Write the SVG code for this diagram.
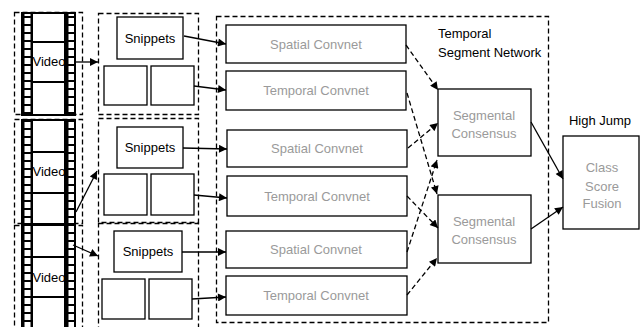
<svg xmlns="http://www.w3.org/2000/svg" width="643" height="327" viewBox="0 0 643 327">
  <style>
    .dash { fill: none; stroke: #000; stroke-width: 1.3; stroke-dasharray: 5 3; }
    .box { fill: #fff; stroke: #000; stroke-width: 1.3; }
    .edge { fill: none; stroke: #000; stroke-width: 1.3; }
    .edge-d { fill: none; stroke: #000; stroke-width: 1.3; stroke-dasharray: 5 3; }
    .lbl { font-family: "Liberation Sans", Arial, sans-serif; font-size: 13px; fill: #000; }
    .gray { font-family: "Liberation Sans", Arial, sans-serif; font-size: 13px; fill: #9a9a9a; text-anchor: middle; }
    .film-line { stroke: #000; stroke-width: 2; }
  </style>
  <defs>
    <!-- ladder of sprocket holes along the film edges -->
    <pattern id="sprocket" width="11" height="8" patternUnits="userSpaceOnUse">
      <rect width="11" height="8" fill="#000"/>
      <rect x="2.5" y="2" width="6" height="6" fill="#fff"/>
    </pattern>
    <marker id="ah" viewBox="0 0 10 10" refX="10" refY="5" markerWidth="9" markerHeight="8" markerUnits="userSpaceOnUse" orient="auto">
      <path d="M0,0 L10,5 L0,10 z" fill="#000"/>
    </marker>
  </defs>

  <!-- video film strips -->
  <g id="video1">
    <rect class="dash" x="14.5" y="12.5" width="68" height="102"/>
    <rect x="22" y="13" width="11" height="102" fill="url(#sprocket)"/>
    <rect x="64" y="13" width="11" height="102" fill="url(#sprocket)"/>
    <rect x="33" y="14" width="31" height="100" fill="#fff"/>
    <rect x="22" y="13" width="53" height="102" fill="none" stroke="#000" stroke-width="2"/>
    <line class="film-line" x1="33" y1="42" x2="64" y2="42"/>
    <line class="film-line" x1="33" y1="82" x2="64" y2="82"/>
    <text class="lbl" x="49" y="66" text-anchor="middle" font-size="12">Video</text>
  </g>
  <g id="video2">
    <rect class="dash" x="14.5" y="119.5" width="68" height="104"/>
    <rect x="22" y="120" width="11" height="104" fill="url(#sprocket)"/>
    <rect x="64" y="120" width="11" height="104" fill="url(#sprocket)"/>
    <rect x="33" y="121" width="31" height="102" fill="#fff"/>
    <rect x="22" y="120" width="53" height="104" fill="none" stroke="#000" stroke-width="2"/>
    <line class="film-line" x1="33" y1="152" x2="64" y2="152"/>
    <line class="film-line" x1="33" y1="193" x2="64" y2="193"/>
    <text class="lbl" x="49" y="176" text-anchor="middle" font-size="12">Video</text>
  </g>
  <g id="video3">
    <rect class="dash" x="14.5" y="225.5" width="68" height="110"/>
    <rect x="22" y="225" width="11" height="110" fill="url(#sprocket)"/>
    <rect x="64" y="225" width="11" height="110" fill="url(#sprocket)"/>
    <rect x="33" y="226" width="31" height="108" fill="#fff"/>
    <rect x="22" y="225" width="53" height="110" fill="none" stroke="#000" stroke-width="2"/>
    <line class="film-line" x1="33" y1="257" x2="64" y2="257"/>
    <line class="film-line" x1="33" y1="297" x2="64" y2="297"/>
    <text class="lbl" x="49" y="282" text-anchor="middle" font-size="12">Video</text>
  </g>

  <!-- snippet groups -->
  <g id="snippets1">
    <rect class="dash" x="98.5" y="13.5" width="100" height="101"/>
    <rect class="box" x="117" y="17" width="66" height="42"/>
    <text class="lbl" x="150" y="43" text-anchor="middle" font-size="12">Snippets</text>
    <rect class="box" x="104" y="66" width="43" height="39"/>
    <rect class="box" x="151" y="66" width="43" height="39"/>
  </g>
  <g id="snippets2">
    <rect class="dash" x="98.5" y="118.5" width="100" height="104"/>
    <rect class="box" x="117" y="127" width="66" height="41"/>
    <text class="lbl" x="150" y="152" text-anchor="middle" font-size="12">Snippets</text>
    <rect class="box" x="104" y="174" width="43" height="41"/>
    <rect class="box" x="151" y="174" width="43" height="41"/>
  </g>
  <g id="snippets3">
    <rect class="dash" x="98.5" y="223.5" width="100" height="110"/>
    <rect class="box" x="114" y="231" width="68" height="41"/>
    <text class="lbl" x="148" y="256" text-anchor="middle" font-size="12">Snippets</text>
    <rect class="box" x="102" y="279" width="43" height="40"/>
    <rect class="box" x="149" y="279" width="43" height="40"/>
  </g>

  <!-- temporal segment network -->
  <g id="tsn">
    <rect class="dash" x="216.5" y="16.5" width="332" height="306"/>
    <text class="lbl" x="438" y="38">Temporal</text>
    <text class="lbl" x="438" y="57">Segment Network</text>
  </g>
  <g id="spatial1">
    <rect class="box" x="226" y="25" width="180" height="38"/>
    <text class="gray" x="316" y="49">Spatial Convnet</text>
  </g>
  <g id="temporal1">
    <rect class="box" x="226" y="71" width="180" height="39"/>
    <text class="gray" x="316" y="95">Temporal Convnet</text>
  </g>
  <g id="spatial2">
    <rect class="box" x="227" y="130" width="180" height="37"/>
    <text class="gray" x="317" y="153">Spatial Convnet</text>
  </g>
  <g id="temporal2">
    <rect class="box" x="227" y="176" width="180" height="40"/>
    <text class="gray" x="317" y="201">Temporal Convnet</text>
  </g>
  <g id="spatial3">
    <rect class="box" x="226" y="231" width="181" height="37"/>
    <text class="gray" x="316" y="254">Spatial Convnet</text>
  </g>
  <g id="temporal3">
    <rect class="box" x="226" y="276" width="181" height="39"/>
    <text class="gray" x="316" y="300">Temporal Convnet</text>
  </g>
  <g id="consensus1">
    <rect class="box" x="438" y="89" width="93" height="67"/>
    <text class="gray" x="484" y="120">Segmental</text>
    <text class="gray" x="484" y="138">Consensus</text>
  </g>
  <g id="consensus2">
    <rect class="box" x="438" y="195" width="93" height="68"/>
    <text class="gray" x="484" y="226">Segmental</text>
    <text class="gray" x="484" y="244">Consensus</text>
  </g>

  <!-- class score fusion -->
  <g id="fusion">
    <text class="lbl" x="600" y="125" text-anchor="middle" font-size="14">High Jump</text>
    <rect class="box" x="563" y="136" width="76" height="93"/>
    <text class="gray" x="602" y="172" font-size="12">Class</text>
    <text class="gray" x="602" y="191" font-size="12">Score</text>
    <text class="gray" x="602" y="208" font-size="12">Fusion</text>
  </g>

  <!-- connectors -->
  <g id="connectors">
    <line class="edge" x1="75" y1="62" x2="98" y2="62" marker-end="url(#ah)"/>
    <line class="edge" x1="76" y1="212" x2="97" y2="171" marker-end="url(#ah)"/>
    <line class="edge" x1="73" y1="245" x2="98" y2="256" marker-end="url(#ah)"/>

    <line class="edge" x1="184" y1="36" x2="226" y2="44" marker-end="url(#ah)"/>
    <line class="edge" x1="194" y1="86" x2="226" y2="90" marker-end="url(#ah)"/>
    <line class="edge" x1="183" y1="148" x2="227" y2="149" marker-end="url(#ah)"/>
    <line class="edge" x1="194" y1="195" x2="227" y2="198" marker-end="url(#ah)"/>
    <line class="edge" x1="182" y1="252" x2="226" y2="252" marker-end="url(#ah)"/>
    <line class="edge" x1="192" y1="299" x2="226" y2="297" marker-end="url(#ah)"/>

    <line class="edge-d" x1="406" y1="45" x2="438" y2="90" marker-end="url(#ah)"/>
    <line class="edge-d" x1="407" y1="93" x2="437" y2="194" marker-end="url(#ah)"/>
    <line class="edge-d" x1="408" y1="148" x2="438" y2="123" marker-end="url(#ah)"/>
    <line class="edge-d" x1="407" y1="196" x2="438" y2="228" marker-end="url(#ah)"/>
    <line class="edge-d" x1="407" y1="252" x2="437" y2="160" marker-end="url(#ah)"/>
    <line class="edge-d" x1="407" y1="295" x2="437" y2="258" marker-end="url(#ah)"/>

    <line class="edge" x1="531" y1="122" x2="563" y2="179" marker-end="url(#ah)"/>
    <line class="edge" x1="531" y1="229" x2="563" y2="207" marker-end="url(#ah)"/>
  </g>
</svg>
